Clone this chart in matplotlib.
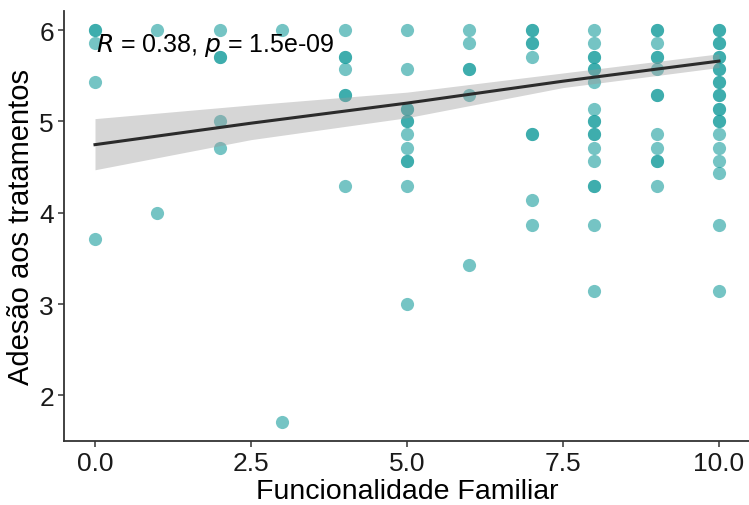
import numpy as np
import matplotlib
matplotlib.use('Agg')
import matplotlib.pyplot as plt

plt.rcParams['font.family'] = ['Liberation Sans', 'DejaVu Sans']

# pontos: Funcionalidade Familiar (x) vs Adesao aos tratamentos (y)
func_x = ([0] * 5 + [1] * 2 + [2] * 5 + [3] * 2 + [4] * 7 + [5] * 12 +
          [6] * 6 + [7] * 9 + [8] * 18 + [9] * 13 + [10] * 22)
adesao_y = [
    6.0, 6.0, 5.86, 5.43, 3.71,                                   # 0
    6.0, 4.0,                                                     # 1
    6.0, 5.71, 5.71, 5.0, 4.71,                                   # 2
    6.0, 1.71,                                                    # 3
    6.0, 5.71, 5.71, 5.57, 5.29, 5.29, 4.29,                      # 4
    6.0, 5.57, 5.14, 5.14, 5.0, 5.0, 4.86, 4.71, 4.57, 4.57,
    4.29, 3.0,                                                    # 5
    6.0, 5.86, 5.57, 5.57, 5.29, 3.43,                            # 6
    6.0, 6.0, 5.86, 5.86, 5.71, 4.86, 4.86, 4.14, 3.86,           # 7
    6.0, 5.86, 5.71, 5.71, 5.57, 5.57, 5.43, 5.14, 5.0, 5.0,
    4.86, 4.86, 4.71, 4.57, 4.29, 4.29, 3.86, 3.14,               # 8
    6.0, 6.0, 5.86, 5.71, 5.71, 5.57, 5.29, 5.29, 4.86, 4.71,
    4.57, 4.57, 4.29,                                             # 9
    6.0, 6.0, 5.86, 5.86, 5.71, 5.71, 5.57, 5.57, 5.43, 5.43,
    5.29, 5.29, 5.14, 5.14, 5.0, 5.0, 4.86, 4.71, 4.57, 4.43,
    3.86, 3.14,                                                   # 10
]

# reta de regressao e faixa de confianca
fit_x = [0, 2.5, 5, 7.5, 10]
fit_y = [4.745, 4.98, 5.20, 5.44, 5.66]
ci_low = [4.47, 4.80, 5.04, 5.37, 5.59]
ci_high = [5.03, 5.18, 5.32, 5.53, 5.74]

cor_label = r'$\it{R}$ = 0.38, $\it{p}$ = 1.5e-09'

fig = plt.figure(figsize=(7.49, 5.06), dpi=100)
W, H = 749, 506
ax = fig.add_axes([63.8 / W, (H - 442) / H, 686.4 / W, 430.5 / H])

ax.scatter(func_x, adesao_y, s=90, color='#1a9e9e', alpha=0.6,
           linewidths=0, zorder=2)
ax.fill_between(fit_x, ci_low, ci_high, color='#999999', alpha=0.4,
                linewidth=0, zorder=3)
ax.plot(fit_x, fit_y, color='#2b2b2b', lw=2.2, zorder=4)

ax.text(0.02, 5.84, cor_label, fontsize=18, ha='left', va='center', zorder=5)

ax.set_xlim(-0.5, 10.5)
ax.set_ylim(1.5, 6.214)
ax.set_xticks([0, 2.5, 5, 7.5, 10])
ax.set_xticklabels(['0.0', '2.5', '5.0', '7.5', '10.0'])
ax.set_yticks([2, 3, 4, 5, 6])

for s in ['top', 'right']:
    ax.spines[s].set_visible(False)
for s in ['left', 'bottom']:
    ax.spines[s].set_color('#333333')
    ax.spines[s].set_linewidth(1.3)
ax.tick_params(axis='both', labelsize=19, color='#333333', length=4,
               width=1.1, labelcolor='#1a1a1a', pad=3)

ax.set_xlabel('Funcionalidade Familiar', fontsize=20.5, labelpad=2.5)
ax.set_ylabel('Adesão aos tratamentos', fontsize=21, labelpad=3)

fig.savefig('out.png', dpi=100)
